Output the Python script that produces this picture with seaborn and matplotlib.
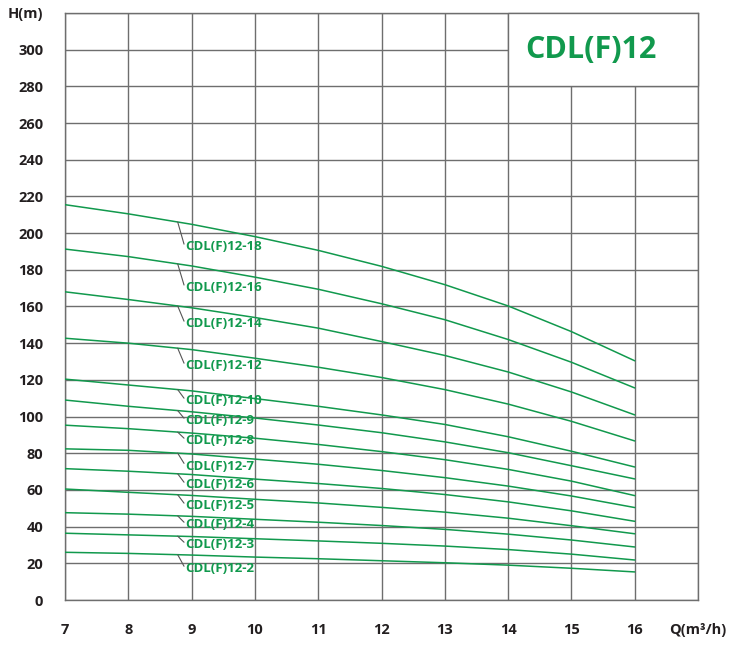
import seaborn as sns
import matplotlib.pyplot as plt
import matplotlib.patches as patches
import numpy as np
import pandas as pd

flow = [7, 8, 9, 10, 11, 12, 13, 14, 15, 16]

# Head (m) per model
models = ["18", "16", "14", "12", "10", "9", "8", "7", "6", "5", "4", "3", "2"]
h_18 = [215.5, 210.5, 204.8, 198.1, 190.6, 181.9, 171.9, 160.3, 146.3, 130.4]
h_16 = [191.3, 187.2, 182.1, 176.0, 169.4, 161.5, 152.8, 142.0, 129.6, 115.6]
h_14 = [168.0, 163.8, 159.3, 154.0, 148.2, 140.9, 133.3, 124.3, 113.4, 100.9]
h_12 = [142.7, 140.0, 136.5, 131.8, 126.9, 121.3, 114.7, 106.8, 97.4, 86.7]
h_10 = [120.4, 117.2, 114.0, 109.8, 105.6, 100.9, 95.7, 89.0, 81.1, 72.5]
h_9 = [109.0, 105.6, 102.6, 99.2, 95.4, 91.2, 86.2, 80.3, 73.2, 66.0]
h_8 = [95.3, 93.4, 91.0, 88.2, 84.8, 80.9, 76.5, 71.2, 64.8, 56.9]
h_7 = [82.4, 81.6, 79.6, 76.8, 74.0, 70.6, 66.7, 62.1, 56.7, 50.4]
h_6 = [71.6, 70.2, 68.4, 65.9, 63.5, 60.8, 57.5, 53.5, 48.6, 42.9]
h_5 = [60.5, 58.7, 57.0, 54.9, 52.9, 50.5, 47.9, 44.6, 40.5, 36.1]
h_4 = [47.6, 46.8, 45.6, 44.0, 42.4, 40.6, 38.5, 35.9, 32.7, 28.9]
h_3 = [36.4, 35.5, 34.6, 33.4, 32.2, 30.9, 29.4, 27.5, 25.0, 21.8]
h_2 = [26.0, 25.4, 24.5, 23.4, 22.5, 21.4, 20.3, 19.0, 17.3, 15.3]
heads = [h_18, h_16, h_14, h_12, h_10, h_9, h_8, h_7, h_6, h_5, h_4, h_3, h_2]

# Where the model labels sit (head value of the label centre)
label_h = [192.5, 170.2, 150.5, 127.6, 108.5, 97.6, 86.7, 73.0, 62.7, 51.3, 40.9, 30.0, 16.9]

x_ticks = [7, 8, 9, 10, 11, 12, 13, 14, 15, 16, 17]
x_labels = ["7", "8", "9", "10", "11", "12", "13", "14", "15", "16", "Q(m³/h)"]
y_ticks = list(range(0, 321, 20))
y_labels = [str(v) for v in y_ticks[:-1]] + ["H(m)"]

green = "#11994d"
grid_c = "#6e6e6e"

rows = []
for m, h in zip(models, heads):
    for q, v in zip(flow, h):
        rows.append({"model": m, "Q": q, "H": v})
df = pd.DataFrame(rows)

sns.set_style("white")
plt.rcParams["font.family"] = ["Open Sans", "DejaVu Sans"]

fig = plt.figure(figsize=(7.43, 6.49), dpi=100)
ax = fig.add_axes([0.0875, 0.0755, 0.852, 0.9045])

sns.lineplot(data=df, x="Q", y="H", hue="model", palette={m: green for m in models},
             legend=False, linewidth=1.1, ax=ax, zorder=3)

ax.set_xlim(7, 17)
ax.set_ylim(0, 320)
ax.set_xticks(x_ticks)
ax.set_xticklabels(x_labels)
ax.set_yticks(y_ticks)
ax.set_yticklabels(y_labels)
ax.grid(True, color=grid_c, linewidth=1.0, zorder=1)
for s in ax.spines.values():
    s.set_color(grid_c)
    s.set_linewidth(1.0)
ax.tick_params(axis="y", length=8.6, width=1.0, color=grid_c, pad=7, labelsize=10.5, labelcolor="#231f20")
ax.tick_params(axis="x", length=5.8, width=1.0, color=grid_c, pad=11, labelsize=10.5, labelcolor="#231f20")
for t in ax.get_xticklabels() + ax.get_yticklabels():
    t.set_fontweight("bold")
ax.set_xlabel("")
ax.set_ylabel("")

# title box in the top right corner
box = patches.Rectangle((14, 280), 3, 40, facecolor="white", edgecolor=grid_c,
                        linewidth=1.0, zorder=4, clip_on=False)
ax.add_patch(box)
ax.text(15.31, 300, "CDL(F)12", color=green, fontsize=22, fontweight="bold",
        ha="center", va="center", zorder=5)

# model labels with leader lines
for m, h, lh in zip(models, heads, label_h):
    y0 = np.interp(8.78, flow, h)
    ax.plot([8.78, 8.88], [y0, lh + 1.5], color="#555555", linewidth=0.8, zorder=3)
    ax.text(8.9, lh, "CDL(F)12-" + m, color=green, fontsize=9.5, fontweight="bold",
            ha="left", va="center", zorder=5)

fig.savefig("out.png", dpi=100)
